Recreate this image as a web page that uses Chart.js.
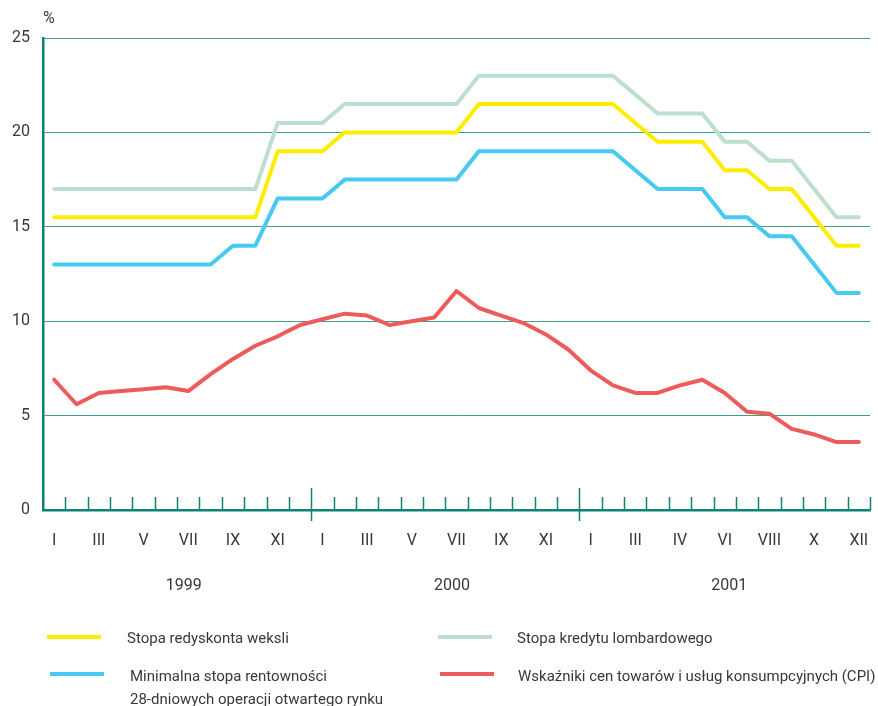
<!DOCTYPE html>
<html lang="pl">
<head>
<meta charset="utf-8">
<script src="https://cdn.jsdelivr.net/npm/chart.js@4/dist/chart.umd.min.js"></script>
<style>
    html, body { margin: 0; padding: 0; background: #fff; }
    body { width: 878px; height: 706px; position: relative; overflow: hidden;
           font-family: Roboto, "Liberation Sans", sans-serif; color: #383838; }
    #wrap { position: absolute; left: 0; top: 0; width: 878px; height: 706px; }
    .lg-line { position: absolute; height: 4px; width: 54px; }
    .lg-text { position: absolute; font-size: 15px; line-height: 23px; white-space: nowrap; }
</style>
</head>
<body>
<div id="wrap"><canvas id="chart"></canvas></div>

<div class="lg-line" style="left:47px; top:635px; background:#ffed00"></div>
<div class="lg-text" style="left:127px; top:627px">Stopa redyskonta weksli</div>
<div class="lg-line" style="left:438px; top:635px; background:#bde0cd"></div>
<div class="lg-text" style="left:517px; top:627px">Stopa kredytu lombardowego</div>
<div class="lg-line" style="left:50px; top:672px; background:#47c9f2"></div>
<div class="lg-text" style="left:130px; top:665px">Minimalna stopa rentowności<br>28-dniowych operacji otwartego rynku</div>
<div class="lg-line" style="left:440px; top:672px; background:#ee5b5b"></div>
<div class="lg-text" style="left:518px; top:665px">Wskaźniki cen towarów i usług konsumpcyjnych (CPI)</div>

<script>
// 37 monthly positions, I 1999 .. end of 2001
const tickLabels = ['I', 'III', 'V', 'VII', 'IX', 'XI',
                    'I', 'III', 'V', 'VII', 'IX', 'XI',
                    'I', 'III', 'IV', 'VI', 'VIII', 'X', 'XII'];
const years = ['1999', '2000', '2001'];
const yearCenters = [5.8, 17.8, 30.2];

const lombard = [17, 17, 17, 17, 17, 17, 17, 17, 17, 17, 20.5, 20.5, 20.5,
                 21.5, 21.5, 21.5, 21.5, 21.5, 21.5, 23, 23, 23, 23, 23, 23, 23,
                 22, 21, 21, 21, 19.5, 19.5, 18.5, 18.5, 17, 15.5, 15.5];
const rediscount = [15.5, 15.5, 15.5, 15.5, 15.5, 15.5, 15.5, 15.5, 15.5, 15.5, 19, 19, 19,
                    20, 20, 20, 20, 20, 20, 21.5, 21.5, 21.5, 21.5, 21.5, 21.5, 21.5,
                    20.5, 19.5, 19.5, 19.5, 18, 18, 17, 17, 15.5, 14, 14];
const openMarket = [13, 13, 13, 13, 13, 13, 13, 13, 14, 14, 16.5, 16.5, 16.5,
                    17.5, 17.5, 17.5, 17.5, 17.5, 17.5, 19, 19, 19, 19, 19, 19, 19,
                    18, 17, 17, 17, 15.5, 15.5, 14.5, 14.5, 13, 11.5, 11.5];
const cpi = [6.9, 5.6, 6.2, 6.3, 6.4, 6.5, 6.3, 7.2, 8.0, 8.7, 9.2, 9.8, 10.1,
             10.4, 10.3, 9.8, 10.0, 10.2, 11.6, 10.7, 10.3, 9.9, 9.3, 8.5, 7.4, 6.6,
             6.2, 6.2, 6.6, 6.9, 6.2, 5.2, 5.1, 4.3, 4.0, 3.6, 3.6];

const categories = cpi.map((v, i) => i);
const teal = '#0b8274';
const gridTeal = '#3d9c93';
const textColor = '#383838';
const fontFamily = 'Roboto, "Liberation Sans", sans-serif';

// month ticks above the axis, longer ones at year boundaries, years and "%"
const decorPlugin = {
    id: 'decor',
    afterDraw(chart) {
        const ctx = chart.ctx;
        const x = chart.scales.x;
        const area = chart.chartArea;
        const base = area.bottom;
        const step = x.getPixelForValue(1) - x.getPixelForValue(0);
        ctx.save();
        ctx.strokeStyle = teal;
        ctx.lineWidth = 1.5;
        for (let k = 0; k < categories.length; k++) {
            const px = Math.round(x.getPixelForValue(k) + step / 2) + 0.5;
            const major = (k === 11 || k === 23);
            ctx.beginPath();
            ctx.moveTo(px, major ? base - 22 : base - 13);
            ctx.lineTo(px, major ? base + 11 : base);
            ctx.stroke();
        }
        ctx.fillStyle = textColor;
        ctx.font = '16px ' + fontFamily;
        ctx.textAlign = 'center';
        ctx.textBaseline = 'middle';
        years.forEach((y, i) => {
            ctx.fillText(y, x.getPixelForValue(yearCenters[i]), 586);
        });
        ctx.textAlign = 'left';
        ctx.fillText('%', area.left, 19);
        ctx.restore();
    }
};

const lineStyle = {
    borderWidth: 4,
    pointRadius: 0,
    tension: 0,
    borderJoinStyle: 'round',
    borderCapStyle: 'round',
    fill: false
};

new Chart(document.getElementById('chart').getContext('2d'), {
    type: 'line',
    data: {
        labels: categories,
        datasets: [
            { label: 'Stopa kredytu lombardowego', data: lombard, borderColor: '#bde0cd', ...lineStyle },
            { label: 'Stopa redyskonta weksli', data: rediscount, borderColor: '#ffed00', ...lineStyle },
            { label: 'Minimalna stopa rentowności 28-dniowych operacji otwartego rynku', data: openMarket, borderColor: '#47c9f2', ...lineStyle },
            { label: 'Wskaźniki cen towarów i usług konsumpcyjnych (CPI)', data: cpi, borderColor: '#ee5b5b', ...lineStyle }
        ]
    },
    options: {
        responsive: true,
        maintainAspectRatio: false,
        animation: false,
        layout: { padding: { top: 38, right: 8, left: 0, bottom: 0 } },
        plugins: {
            legend: { display: false },
            tooltip: { enabled: false }
        },
        scales: {
            x: {
                offset: true,
                grid: { display: false, offset: true },
                border: { display: true, color: teal, width: 2.5 },
                afterFit: s => { s.height = 196; s.paddingRight = 8; s.paddingLeft = 0; },
                ticks: {
                    autoSkip: false,
                    maxRotation: 0,
                    padding: 13,
                    color: textColor,
                    font: { family: fontFamily, size: 16 },
                    callback: (v, i) => (i % 2 === 0 ? tickLabels[i / 2] : '')
                }
            },
            y: {
                min: 0,
                max: 25,
                grid: { color: gridTeal, lineWidth: 1, drawTicks: false },
                border: { display: true, color: teal, width: 2.5 },
                afterFit: s => { s.width = 43; },
                ticks: {
                    stepSize: 5,
                    padding: 13,
                    color: textColor,
                    font: { family: fontFamily, size: 16 }
                }
            }
        }
    },
    plugins: [decorPlugin]
});
</script>
</body>
</html>
